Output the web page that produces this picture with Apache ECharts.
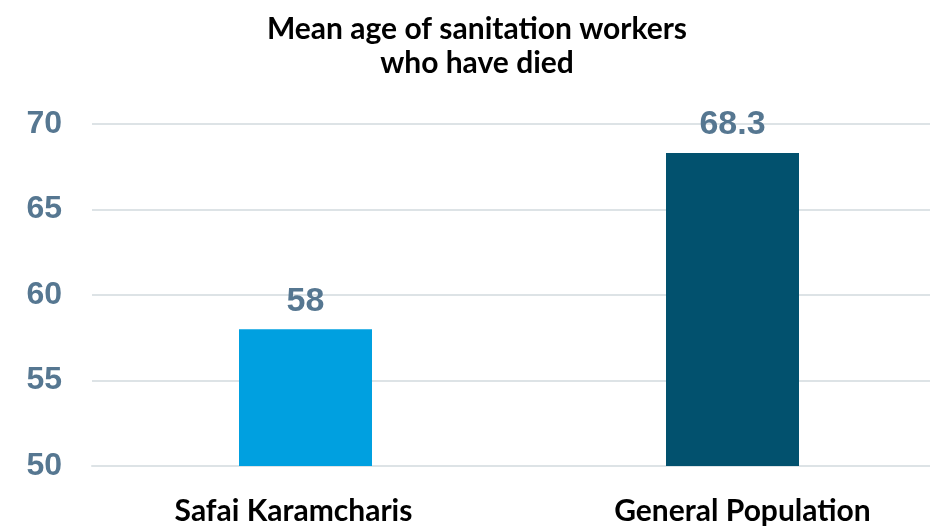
<!DOCTYPE html>
<html>
<head>
<meta charset="utf-8">
<script src="https://cdn.jsdelivr.net/npm/echarts@6/dist/echarts.min.js"></script>
<style>html,body{margin:0;padding:0;background:#fff}#c{width:930px;height:527px}</style>
</head>
<body>
<div id="c"></div>
<script>
const categories = ["Safai Karamcharis", "General Population"];
const values = [58, 68.3];
const barColors = ["#00a0e0", "#02516e"];
const yMin = 50, yMax = 70, yInterval = 5;
const labelPads = [[0, 24, 0, 0], [0, 0, 0, 20]];

const chart = echarts.init(document.getElementById('c'));
chart.setOption({
  animation: false,
  title: {
    text: "Mean age of sanitation workers\nwho have died",
    left: 472, top: 7, textAlign: 'center',
    textStyle: { fontFamily: 'Lato', fontWeight: 'bold', fontSize: 30, color: '#000', lineHeight: 34 }
  },
  grid: { left: 92, right: -16, top: 124, bottom: 61, outerBoundsMode: 'none', containLabel: false },
  xAxis: {
    type: 'category',
    data: categories.map((c, i) => ({ value: c, textStyle: { padding: labelPads[i] } })),
    axisLine: { show: true, lineStyle: { color: '#dde3e6', width: 2 } },
    axisTick: { show: false },
    axisLabel: { margin: 30, fontFamily: 'Lato', fontWeight: 'bold', fontSize: 30, color: '#000' }
  },
  yAxis: {
    type: 'value', min: yMin, max: yMax, interval: yInterval,
    axisLine: { show: false }, axisTick: { show: false },
    axisLabel: { margin: 30, fontFamily: 'Liberation Sans', fontWeight: 'bold', fontSize: 32, color: '#567791' },
    splitLine: { lineStyle: { color: '#dde3e6', width: 2 } }
  },
  series: [{
    type: 'bar', barWidth: 133,
    data: values.map((v, i) => ({ value: v, itemStyle: { color: barColors[i] } })),
    label: { show: true, position: 'top', distance: 11, fontFamily: 'Liberation Sans', fontWeight: 'bold', fontSize: 34, color: '#567791' }
  }]
});
</script>
</body>
</html>
